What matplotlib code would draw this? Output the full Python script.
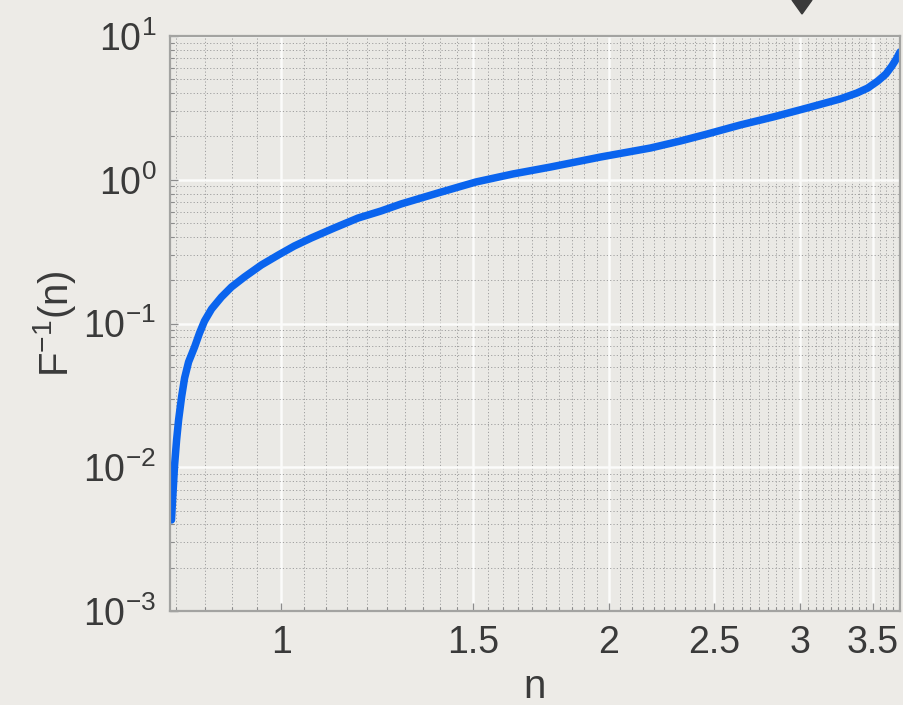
import numpy as np
import matplotlib
matplotlib.use("Agg")
import matplotlib.pyplot as plt
from matplotlib.patches import Polygon
from matplotlib.ticker import FixedLocator, FixedFormatter, LogLocator, NullFormatter

# values (log-log axes)
n_vals = [0.7925, 0.7943, 0.7960, 0.7977, 0.8011, 0.8045, 0.8096, 0.8148, 0.8217, 0.8322,
          0.8410, 0.8499, 0.8627, 0.8810, 0.8998, 0.9248, 0.9586, 0.9937, 1.0278, 1.0654,
          1.1184, 1.1767, 1.2351, 1.2885, 1.3932, 1.5097, 1.6322, 1.7687, 1.9660, 2.1853,
          2.3281, 2.4645, 2.6424, 2.8330, 3.044, 3.264, 3.383, 3.462, 3.536, 3.597,
          3.643, 3.682, 3.706]
finv_vals = [0.00430, 0.00592, 0.00777, 0.01037, 0.01547, 0.02132, 0.03082, 0.04176, 0.05399, 0.06863,
             0.0859, 0.1041, 0.1262, 0.1529, 0.1794, 0.2106, 0.2553, 0.2996, 0.3459, 0.3934,
             0.4616, 0.5419, 0.6063, 0.6783, 0.8089, 0.9645, 1.0965, 1.2266, 1.4396, 1.6631,
             1.8606, 2.081, 2.404, 2.733, 3.156, 3.645, 4.013, 4.348, 4.864, 5.441,
             6.184, 7.031, 7.741]

x_ticks = [1, 1.5, 2, 2.5, 3, 3.5]
x_tick_labels = ["1", "1.5", "2", "2.5", "3", "3.5"]

plt.rcParams['font.family'] = ['Liberation Sans', 'DejaVu Sans']

bg = '#edebe7'
fig = plt.figure(figsize=(9.04, 7.05), dpi=100, facecolor=bg)
ax = fig.add_axes([170 / 904, 1 - 611 / 705, 730 / 904, 575 / 705])
ax.set_facecolor('#eae9e5')

ax.set_xscale('log')
ax.set_yscale('log')
ax.set_xlim(0.79, 3.706)
ax.set_ylim(1e-3, 1e1)

ax.xaxis.set_major_locator(FixedLocator(x_ticks))
ax.xaxis.set_major_formatter(FixedFormatter(x_tick_labels))
minor_x = [v for v in np.round(np.arange(0.8, 3.71, 0.05), 2) if v not in x_ticks]
ax.xaxis.set_minor_locator(FixedLocator(minor_x))
ax.xaxis.set_minor_formatter(NullFormatter())
ax.yaxis.set_major_locator(LogLocator(base=10, numticks=10))
ax.yaxis.set_minor_locator(LogLocator(base=10, subs=np.arange(2, 10), numticks=10))
ax.yaxis.set_minor_formatter(NullFormatter())

ax.grid(True, which='minor', color='#9f9f9f', linestyle=(0, (1.2, 2.2)), linewidth=0.7)
ax.grid(True, which='major', color='#fbfbfa', linestyle='-', linewidth=1.8)
ax.set_axisbelow(True)

ax.plot(n_vals, finv_vals, color='#0a64ee', linewidth=5.4,
        solid_capstyle='round', solid_joinstyle='round')

for s in ax.spines.values():
    s.set_color('#a3a3a1')
    s.set_linewidth(1.6)

ax.tick_params(which='both', direction='in', colors='#8c8c8c', top=False, right=False)
ax.tick_params(which='major', length=6, width=1, labelsize=27, labelcolor='#3a3a3a', pad=10)
ax.tick_params(which='minor', length=3, width=0.8)

ax.set_xlabel('n', fontsize=29, color='#3a3a3a', labelpad=5)
ax.set_ylabel(r'$\mathdefault{F^{-1}(n)}$', fontsize=29, color='#3a3a3a', labelpad=4)

# slide marker at the top edge
fig.add_artist(Polygon([[792 / 904, 1.0], [812 / 904, 1.0], [802 / 904, 1 - 14 / 705]],
                       closed=True, transform=fig.transFigure, color='#3a3a3a'))

fig.savefig('out.png', dpi=100, facecolor=bg)
